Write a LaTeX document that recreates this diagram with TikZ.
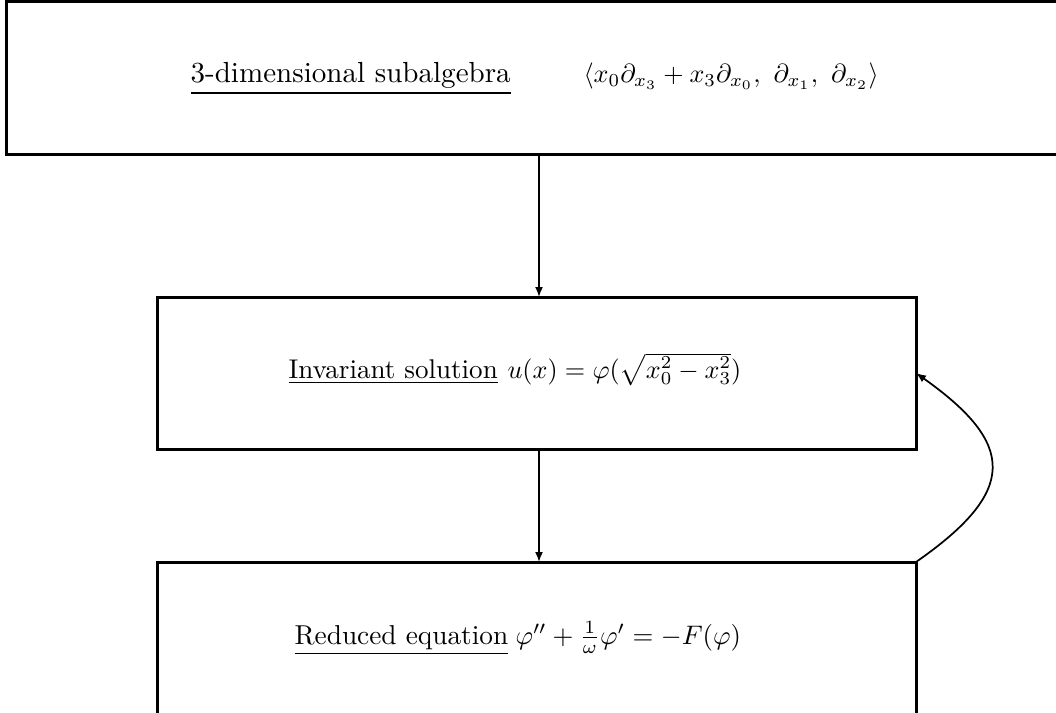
\documentclass[tikz,border=0pt]{standalone}
\usetikzlibrary{arrows.meta}
\begin{document}
\begin{tikzpicture}[x=0.75pt,y=-0.75pt,
  box/.style={draw,line width=2.25pt,minimum width=759*0.75pt,minimum height=152*0.75pt,inner sep=0pt,outer sep=0pt},
  topbox/.style={draw,line width=2.25pt,minimum width=1065*0.75pt,minimum height=153*0.75pt,inner sep=0pt,outer sep=0pt},
  txt/.style={anchor=base west,scale=#1,inner sep=0pt},
  conn/.style={line width=1.3pt,-{Latex[length=7.5pt,width=6pt]}}]
\useasboundingbox (0,0) rectangle (1056,713);
\clip (0,0) rectangle (1056,713);
\node[topbox] (t) at (539,78) {};
\node[box] (m) at (536.5,373) {};
\node[box] (b) at (536.5,638) {};
\node[txt=2.18] (tt) at (190,83) {\underline{3-dimensional subalgebra}};
\node[txt=1.96] (tm) at (583,83) {$\langle x_0\partial_{x_3}+x_3\partial_{x_0},\ \partial_{x_1},\ \partial_{x_2}\rangle$};
\node[txt=2.03] (mt) at (288,378) {\underline{Invariant solution}};
\node[txt=1.96] (mm) at (507,378) {$u(x)=\varphi(\sqrt{x_0^2-x_3^2})$};
\node[txt=2.05] (bt) at (294,644) {\underline{Reduced equation}};
\node[txt=2.01] (bm) at (515,644) {$\varphi''+\frac{1}{\omega}\varphi'=-F(\varphi)$};
\draw[conn] (t.south) -- (t.south |- m.north);
\draw[conn] (t.south |- m.south) -- (t.south |- b.north);
\draw[conn] (b.north east) .. controls +(102,-71) and +(100,71) .. (m.east);
\end{tikzpicture}
\end{document}
